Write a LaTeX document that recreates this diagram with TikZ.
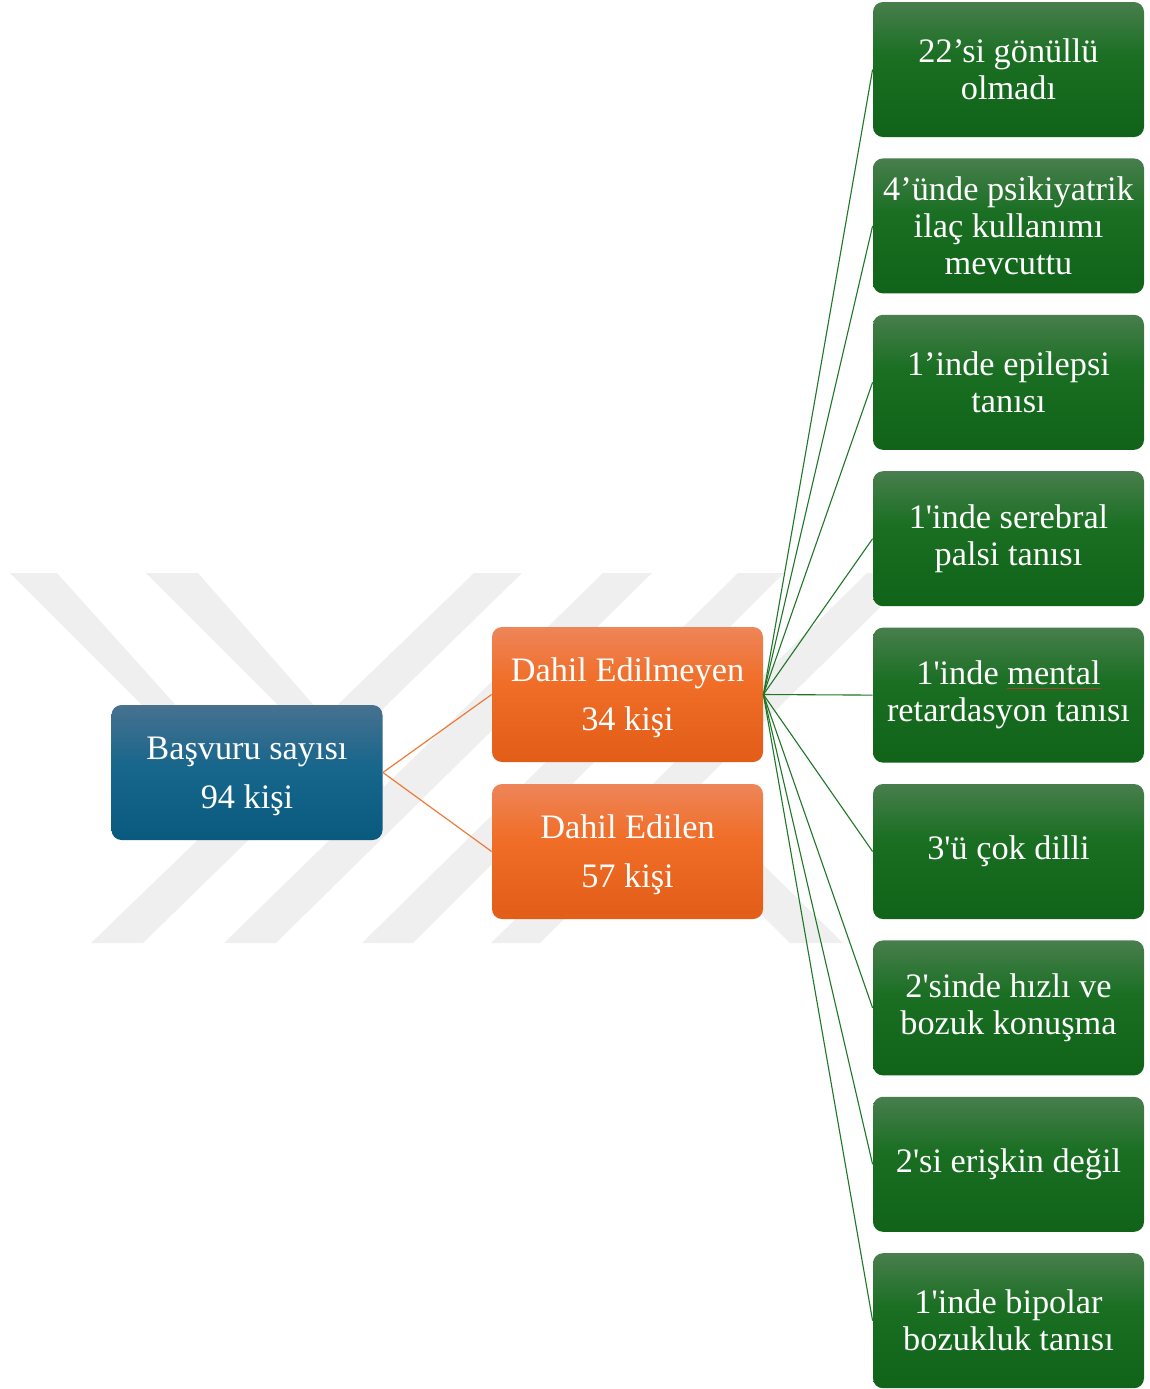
\documentclass[tikz,border=0pt]{standalone}
\usepackage{fontspec}
\setmainfont{Liberation Serif}
\definecolor{gT}{HTML}{487E4D}
\definecolor{gM}{HTML}{1A6F23}
\definecolor{gB}{HTML}{106318}
\definecolor{oT}{HTML}{EE8559}
\definecolor{oM}{HTML}{F06E28}
\definecolor{oB}{HTML}{E25D17}
\definecolor{bT}{HTML}{47718F}
\definecolor{bM}{HTML}{17668C}
\definecolor{bB}{HTML}{0A597E}
\definecolor{orgline}{HTML}{EE7A3A}
\definecolor{grline}{HTML}{1F7626}
\definecolor{wmgray}{HTML}{EFEFEF}
\definecolor{ulred}{HTML}{A5402A}
\pgfdeclareverticalshading{gsh}{100bp}{color(0bp)=(gB); color(25bp)=(gB); color(55bp)=(gM); color(75bp)=(gT); color(100bp)=(gT)}
\pgfdeclareverticalshading{osh}{100bp}{color(0bp)=(oB); color(25bp)=(oB); color(55bp)=(oM); color(75bp)=(oT); color(100bp)=(oT)}
\pgfdeclareverticalshading{bsh}{100bp}{color(0bp)=(bB); color(25bp)=(bB); color(52bp)=(bM); color(75bp)=(bT); color(100bp)=(bT)}
\newcommand\redul[1]{{\color{ulred}\underline{\textcolor{white}{#1}}}}
\newcommand\sq{\textquotesingle}
\begin{document}
\begin{tikzpicture}[x=0.5pt,y=-0.5pt,
  box/.style={rounded corners=5pt, minimum width=135.5pt, minimum height=67.5pt,
    inner sep=0pt, text=white, align=center},
  gbox/.style={box, shading=gsh, font=\fontsize{17.15pt}{18.5pt}\selectfont},
  obox/.style={box, shading=osh, text depth=0pt, font=\fontsize{17.15pt}{24.5pt}\selectfont},
  bbox/.style={box, shading=bsh, text depth=0pt, font=\fontsize{17.15pt}{24.5pt}\selectfont},
  oline/.style={draw=orgline, line width=0.6pt},
  gline/.style={draw=grline, line width=0.55pt},
  wm/.style={fill=wmgray, draw=none}]
\useasboundingbox (0,0) rectangle (1150,1389);
% watermark
\fill[wm] (474,573) -- (522,573) -- (143,943) -- (91,943) -- cycle;
\fill[wm] (603,573) -- (652,573) -- (276,943) -- (224,943) -- cycle;
\fill[wm] (738,573) -- (784,573) -- (413,943) -- (362,943) -- cycle;
\fill[wm] (867,573) -- (915,573) -- (540,943) -- (491,943) -- cycle;
\fill[wm] (10,573) -- (57,573) -- (262,801) -- (238,801) -- cycle;
\fill[wm] (146,573) -- (198,573) -- (395,798) -- (371,798) -- cycle;
\fill[wm] (640,793) -- (690,793) -- (843,943) -- (790,943) -- cycle;
% nodes
\node[bbox] (b) at (247,772.5) {Başvuru sayısı\\94 kişi};
\node[obox] (o1) at (627.5,694.5) {Dahil Edilmeyen\\34 kişi};
\node[obox] (o2) at (627.5,851.5) {Dahil Edilen\\57 kişi};
\node[gbox] (g0) at (1008.5,69.5) {22’si gönüllü\\olmadı};
\node[gbox] (g1) at (1008.5,225.9) {4’ünde psikiyatrik\\ilaç kullanımı\\mevcuttu};
\node[gbox] (g2) at (1008.5,382.3) {1’inde epilepsi\\tanısı};
\node[gbox] (g3) at (1008.5,538.7) {1\sq inde serebral\\palsi tanısı};
\node[gbox] (g4) at (1008.5,695.1) {1\sq inde \redul{mental}\\retardasyon tanısı};
\node[gbox] (g5) at (1008.5,851.5) {3\sq ü çok dilli};
\node[gbox] (g6) at (1008.5,1007.9) {2\sq sinde hızlı ve\\bozuk konuşma};
\node[gbox] (g7) at (1008.5,1164.3) {2\sq si erişkin değil};
\node[gbox] (g8) at (1008.5,1320.7) {1\sq inde bipolar\\bozukluk tanısı};
% connectors
\draw[oline] (b.east) -- (o1.west);
\draw[oline] (b.east) -- (o2.west);
\foreach \i in {0,...,8} {\draw[gline] (o1.east) -- (g\i.west);}
\end{tikzpicture}
\end{document}
